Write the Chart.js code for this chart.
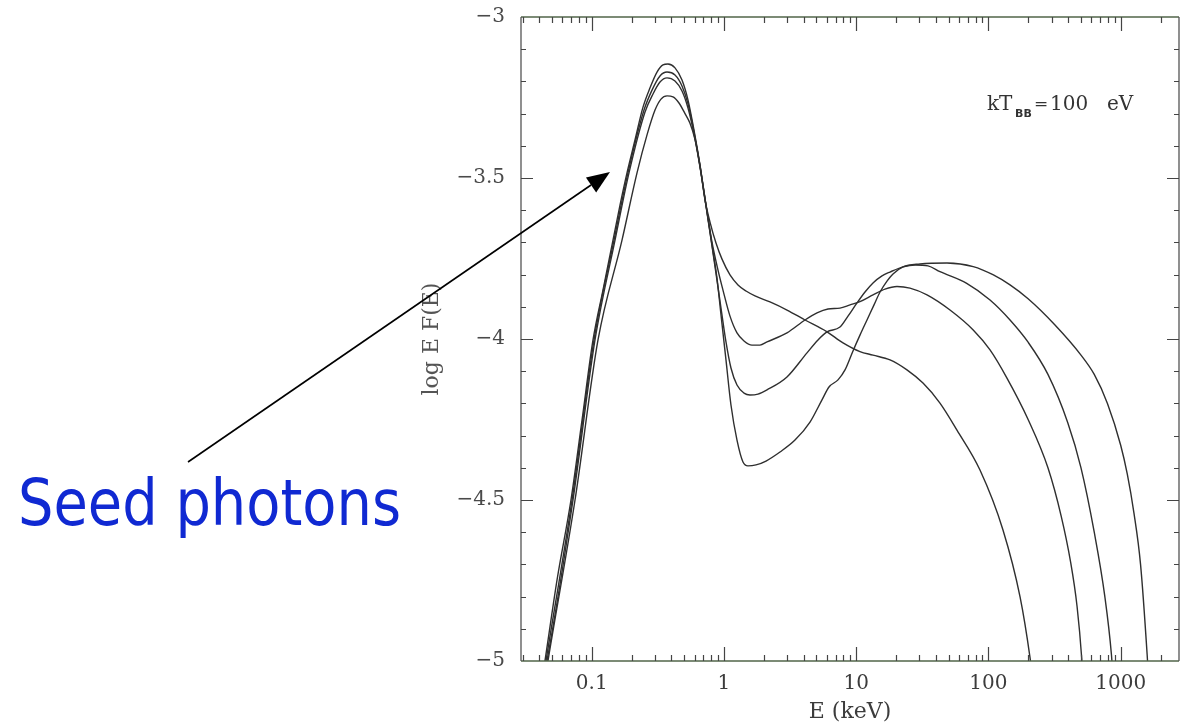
<!DOCTYPE html>
<html>
<head>
<meta charset="utf-8">
<script src="https://cdn.jsdelivr.net/npm/chart.js@4.4.1/dist/chart.umd.min.js"></script>
<style>
  html, body { margin: 0; padding: 0; background: #ffffff; }
  #c { display: block; }
</style>
</head>
<body>
<canvas id="c" width="1180" height="728"></canvas>
<script>
// Comptonised blackbody spectra, kT_BB = 100 eV: photon energy E (keV) and log E F(E)
const energyA = [0.0443, 0.0467, 0.0748, 0.1116, 0.1695, 0.2201, 0.2620, 0.3011, 0.3342, 0.3711, 0.4118, 0.4571, 0.5075, 0.5536, 0.6040, 0.6592, 0.7191, 0.7844, 0.8707, 0.9668, 1.111, 1.277, 1.468, 1.717, 2.229, 2.997, 4.10, 5.98, 7.95, 10.68, 13.40, 18.03, 24.2, 32.0, 43.0, 57.8, 86.3, 128.8, 173.4, 206, 221];
const logEFA  = [-5.059, -5.0, -4.5, -4.003, -3.693, -3.484, -3.366, -3.289, -3.255, -3.245, -3.248, -3.267, -3.300, -3.330, -3.380, -3.462, -3.568, -3.637, -3.702, -3.752, -3.801, -3.832, -3.851, -3.866, -3.885, -3.910, -3.941, -3.977, -4.012, -4.039, -4.050, -4.065, -4.096, -4.137, -4.199, -4.283, -4.407, -4.593, -4.801, -4.988, -5.09];

const energyB = [0.0428, 0.0459, 0.0722, 0.1059, 0.1501, 0.1914, 0.2530, 0.2908, 0.3283, 0.3711, 0.4265, 0.4817, 0.5348, 0.5935, 0.6592, 0.7316, 0.8121, 0.9016, 0.983, 1.111, 1.255, 1.418, 1.630, 1.873, 2.116, 2.997, 4.10, 5.055, 6.12, 7.54, 8.98, 10.68, 13.40, 16.51, 20.35, 25.5, 34.3, 51.2, 76.7, 102.8, 137.4, 199.5, 281.8, 354.8, 416.9, 467.7, 507, 524.8];
const logEFB  = [-5.059, -5.0, -4.5, -4.003, -3.693, -3.484, -3.295, -3.239, -3.202, -3.189, -3.199, -3.230, -3.283, -3.363, -3.466, -3.584, -3.699, -3.786, -3.848, -3.929, -3.981, -4.006, -4.019, -4.019, -4.009, -3.981, -3.941, -3.919, -3.907, -3.904, -3.894, -3.884, -3.863, -3.845, -3.837, -3.842, -3.863, -3.910, -3.972, -4.034, -4.12, -4.25, -4.40, -4.55, -4.69, -4.83, -4.99, -5.1];

const energyC = [0.0428, 0.0451, 0.0710, 0.1041, 0.1475, 0.1880, 0.2486, 0.2858, 0.3283, 0.3711, 0.4265, 0.4817, 0.5348, 0.5935, 0.6592, 0.7316, 0.8121, 0.8857, 0.950, 1.036, 1.130, 1.255, 1.418, 1.574, 1.809, 2.116, 2.997, 4.246, 5.143, 6.016, 7.54, 8.67, 10.14, 11.66, 13.40, 15.67, 18.01, 22.59, 27.85, 34.9, 43.0, 68.5, 102.8, 145.6, 199.5, 281.8, 398, 501, 631, 759, 851, 891];
const logEFC  = [-5.059, -5.0, -4.5, -4.003, -3.693, -3.484, -3.289, -3.227, -3.183, -3.171, -3.180, -3.214, -3.270, -3.357, -3.463, -3.587, -3.711, -3.817, -3.904, -4.009, -4.090, -4.143, -4.168, -4.174, -4.171, -4.158, -4.118, -4.043, -4.003, -3.978, -3.963, -3.929, -3.888, -3.854, -3.826, -3.804, -3.792, -3.776, -3.770, -3.773, -3.791, -3.827, -3.879, -3.941, -4.01, -4.11, -4.26, -4.40, -4.6, -4.8, -4.98, -5.1];

const energyD = [0.0421, 0.0443, 0.0547, 0.0697, 0.0845, 0.1023, 0.1217, 0.1449, 0.1637, 0.1849, 0.2125, 0.2443, 0.2760, 0.3118, 0.3459, 0.3775, 0.4265, 0.4817, 0.5348, 0.5935, 0.6592, 0.7316, 0.8121, 0.8857, 0.950, 1.036, 1.130, 1.255, 1.393, 1.520, 1.747, 2.080, 2.653, 3.445, 4.474, 5.512, 6.228, 7.286, 8.230, 9.458, 10.68, 12.07, 13.64, 15.14, 17.10, 18.98, 22.59, 30.37, 48.6, 76.7, 109, 145.6, 199.5, 316, 501, 631, 794, 1000, 1122, 1259, 1413, 1585, 1660];
const logEFD  = [-5.059, -5.0, -4.748, -4.5, -4.252, -4.003, -3.848, -3.693, -3.584, -3.484, -3.382, -3.280, -3.220, -3.171, -3.149, -3.146, -3.158, -3.196, -3.258, -3.351, -3.460, -3.584, -3.708, -3.811, -3.925, -4.065, -4.205, -4.314, -4.382, -4.394, -4.391, -4.379, -4.351, -4.314, -4.258, -4.189, -4.149, -4.127, -4.096, -4.037, -3.988, -3.941, -3.894, -3.854, -3.820, -3.798, -3.776, -3.767, -3.764, -3.775, -3.801, -3.832, -3.875, -3.955, -4.05, -4.11, -4.20, -4.33, -4.42, -4.54, -4.70, -4.98, -5.12];

// axis ticks
const xTickValues = [0.1, 1, 10, 100, 1000];
const xTickLabels = ['0.1', '1', '10', '100', '1000'];
const yTickValues = [-5, -4.5, -4, -3.5, -3];
const yTickLabels = ['\u22125', '\u22124.5', '\u22124', '\u22123.5', '\u22123'];

const E_MIN = 0.0292, E_MAX = 2760;
const Y_MIN = -5, Y_MAX = -3;

const series = [
  [energyA, logEFA],
  [energyB, logEFB],
  [energyC, logEFC],
  [energyD, logEFD]
];

const tickFont = { family: '"DejaVu Serif", "Liberation Serif", serif', size: 20 };

// frame, inward ticks on all four sides, temperature label and the arrow note
const decorations = {
  id: 'decorations',
  beforeDraw(chart) {
    const { ctx, width, height } = chart;
    ctx.save();
    ctx.fillStyle = '#ffffff';
    ctx.fillRect(0, 0, width, height);
    ctx.restore();
  },
  afterDraw(chart) {
    const { ctx, chartArea: a, scales: { x, y } } = chart;
    ctx.save();

    // frame
    ctx.lineWidth = 1.3;
    ctx.strokeStyle = '#51664a';
    ctx.beginPath();
    ctx.moveTo(a.left, a.top); ctx.lineTo(a.right, a.top);
    ctx.moveTo(a.left, a.bottom); ctx.lineTo(a.right, a.bottom);
    ctx.stroke();
    ctx.strokeStyle = '#555555';
    ctx.beginPath();
    ctx.moveTo(a.left, a.top); ctx.lineTo(a.left, a.bottom);
    ctx.moveTo(a.right, a.top); ctx.lineTo(a.right, a.bottom);
    ctx.stroke();

    // log ticks on bottom and top
    ctx.strokeStyle = '#444444';
    ctx.lineWidth = 1.2;
    ctx.beginPath();
    for (let k = -2; k <= 3; k++) {
      for (let m = 1; m <= 9; m++) {
        const v = m * Math.pow(10, k);
        if (v <= x.min || v >= x.max) continue;
        const px = Math.round(x.getPixelForValue(v)) + 0.5;
        const len = m === 1 ? 14 : 6;
        ctx.moveTo(px, a.bottom); ctx.lineTo(px, a.bottom - len);
        ctx.moveTo(px, a.top); ctx.lineTo(px, a.top + len);
      }
    }
    // linear ticks on left and right, minor every 0.1
    for (let i = 1; i < 20; i++) {
      const v = Y_MIN + i * 0.1;
      const py = Math.round(y.getPixelForValue(v)) + 0.5;
      const len = i % 5 === 0 ? 12 : 5;
      ctx.moveTo(a.left, py); ctx.lineTo(a.left + len, py);
      ctx.moveTo(a.right, py); ctx.lineTo(a.right - len, py);
    }
    ctx.stroke();

    // kT_BB = 100 eV
    ctx.fillStyle = '#333333';
    ctx.textBaseline = 'alphabetic';
    ctx.font = '20px "DejaVu Serif", serif';
    ctx.fillText('kT', 987, 110);
    ctx.font = 'bold 11px "DejaVu Sans", sans-serif';
    ctx.fillText('BB', 1015, 117);
    ctx.font = '17px "DejaVu Serif", serif';
    ctx.fillText('=', 1034, 109);
    ctx.font = '20px "DejaVu Serif", serif';
    ctx.fillText('100', 1050, 110);
    ctx.fillText('eV', 1107, 110);

    // "Seed photons" note with arrow to the blackbody peak
    ctx.fillStyle = '#1029d2';
    ctx.font = '64px "DejaVu Sans", sans-serif';
    const w = ctx.measureText('Seed photons').width;
    ctx.save();
    ctx.translate(18, 525);
    ctx.scale(383 / w, 1);
    ctx.fillText('Seed photons', 0, 0);
    ctx.restore();

    const x0 = 188, y0 = 462, x1 = 610, y1 = 172;
    const ang = Math.atan2(y1 - y0, x1 - x0);
    const hl = 23, hw = 9;
    const bx = x1 - hl * Math.cos(ang), by = y1 - hl * Math.sin(ang);
    ctx.strokeStyle = '#000000';
    ctx.lineWidth = 1.6;
    ctx.beginPath();
    ctx.moveTo(x0, y0); ctx.lineTo(bx, by);
    ctx.stroke();
    ctx.fillStyle = '#000000';
    ctx.beginPath();
    ctx.moveTo(x1, y1);
    ctx.lineTo(bx + hw * Math.sin(ang), by - hw * Math.cos(ang));
    ctx.lineTo(bx - hw * Math.sin(ang), by + hw * Math.cos(ang));
    ctx.closePath();
    ctx.fill();

    ctx.restore();
  }
};

new Chart(document.getElementById('c'), {
  type: 'scatter',
  data: {
    datasets: series.map(([e, f]) => ({
      data: e.map((v, i) => ({ x: v, y: f[i] })),
      showLine: true,
      borderColor: '#2f2f2f',
      borderWidth: 1.4,
      pointRadius: 0,
      pointHoverRadius: 0,
      cubicInterpolationMode: 'monotone',
      fill: false
    }))
  },
  options: {
    responsive: false,
    animation: false,
    events: [],
    layout: { padding: { top: 17, right: 1, left: 0, bottom: 0 } },
    plugins: { legend: { display: false }, tooltip: { enabled: false } },
    scales: {
      x: {
        type: 'logarithmic',
        min: E_MIN,
        max: E_MAX,
        afterFit(s) { s.height = 67; s.paddingLeft = 0; s.paddingRight = 0; },
        afterBuildTicks(s) { s.ticks = xTickValues.map(v => ({ value: v })); },
        grid: { display: false, drawTicks: false },
        border: { display: false },
        ticks: {
          autoSkip: false,
          maxRotation: 0,
          padding: 11,
          color: '#3c3c3c',
          font: tickFont,
          callback: (v, i) => xTickLabels[i]
        },
        title: {
          display: true,
          text: 'E (keV)',
          color: '#3c3c3c',
          font: { family: '"DejaVu Serif", serif', size: 22 },
          padding: { top: 0, bottom: 3 }
        }
      },
      y: {
        min: Y_MIN,
        max: Y_MAX,
        afterFit(s) { s.width = 521; s.paddingTop = 0; s.paddingBottom = 0; },
        afterBuildTicks(s) { s.ticks = yTickValues.map(v => ({ value: v })); },
        grid: { display: false, drawTicks: false },
        border: { display: false },
        ticks: {
          padding: 16,
          color: '#4a4a4a',
          font: tickFont,
          callback: (v, i) => yTickLabels[i]
        },
        title: {
          display: true,
          text: 'log E F(E)',
          color: '#555555',
          font: { family: '"DejaVu Serif", serif', size: 22 },
          padding: { top: 419, bottom: 0 }
        }
      }
    }
  },
  plugins: [decorations]
});
</script>
</body>
</html>
